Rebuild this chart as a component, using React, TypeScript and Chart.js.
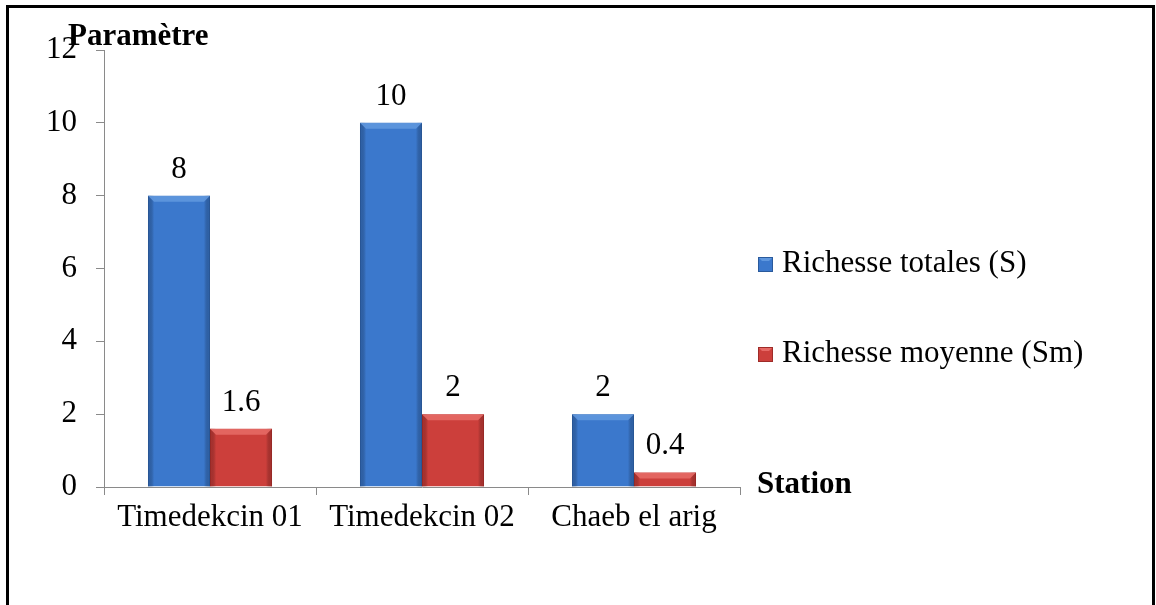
import React, { useEffect, useRef } from "react";
import { Chart, registerables } from "chart.js";

Chart.register(...registerables);

const categories = ["Timedekcin 01", "Timedekcin 02", "Chaeb el arig"];
const richesseTotale = [8, 10, 2];
const richesseMoyenne = [1.6, 2, 0.4];
const seriesLabels = ["Richesse totales (S)", "Richesse moyenne (Sm)"];
const yTitle = "Paramètre";
const xTitle = "Station";

const FONT = "'Liberation Serif', 'Times New Roman', serif";
const FS = 31;

const BLUE = "#3b78cc";
const BLUE_DARK = "#2a5a9c";
const BLUE_LIGHT = "#5f97de";
const RED = "#cc3f3b";
const RED_DARK = "#9e2b28";
const RED_LIGHT = "#e66965";

const bevelPlugin = {
  id: "bevel",
  afterDatasetsDraw(chart: any) {
    const ctx = chart.ctx;
    const shades = [
      { dark: BLUE_DARK, light: BLUE_LIGHT },
      { dark: RED_DARK, light: RED_LIGHT },
    ];
    chart.data.datasets.forEach((ds: any, di: number) => {
      const meta = chart.getDatasetMeta(di);
      meta.data.forEach((bar: any) => {
        const { x, y, base, width } = bar.getProps(["x", "y", "base", "width"], true);
        const l = x - width / 2;
        const r = x + width / 2;
        const h = base - y;
        const b = Math.min(6, h / 2);
        ctx.save();
        // left edge
        let g = ctx.createLinearGradient(l, 0, l + b, 0);
        g.addColorStop(0, shades[di].dark);
        g.addColorStop(1, "rgba(0,0,0,0)");
        ctx.fillStyle = g;
        ctx.globalAlpha = 0.6;
        ctx.fillRect(l, y, b, h);
        // right edge
        g = ctx.createLinearGradient(r - b, 0, r, 0);
        g.addColorStop(0, "rgba(0,0,0,0)");
        g.addColorStop(1, shades[di].dark);
        ctx.fillStyle = g;
        ctx.fillRect(r - b, y, b, h);
        // top bevel
        ctx.globalAlpha = 0.9;
        ctx.beginPath();
        ctx.moveTo(l, y);
        ctx.lineTo(r, y);
        ctx.lineTo(r - b, y + b);
        ctx.lineTo(l + b, y + b);
        ctx.closePath();
        ctx.fillStyle = shades[di].light;
        ctx.fill();
        ctx.restore();
      });
    });
  },
};

const labelsPlugin = {
  id: "valueLabels",
  afterDatasetsDraw(chart: any) {
    const ctx = chart.ctx;
    ctx.save();
    ctx.font = `${FS}px ${FONT}`;
    ctx.fillStyle = "#000";
    ctx.textAlign = "center";
    ctx.textBaseline = "alphabetic";
    chart.data.datasets.forEach((ds: any, di: number) => {
      const meta = chart.getDatasetMeta(di);
      meta.data.forEach((bar: any, i: number) => {
        ctx.fillText(String(ds.data[i]), bar.x, bar.y - 18);
      });
    });
    ctx.restore();
  },
};

const annotationsPlugin = {
  id: "annotations",
  afterDraw(chart: any) {
    const ctx = chart.ctx;
    ctx.save();
    ctx.fillStyle = "#000";
    ctx.textBaseline = "alphabetic";
    ctx.textAlign = "left";
    ctx.font = `bold ${FS}px ${FONT}`;
    ctx.fillText(yTitle, 68, 45);
    ctx.fillText(xTitle, 757, 493);
    // legend
    ctx.font = `${FS}px ${FONT}`;
    const baselines = [272, 362];
    chart.data.datasets.forEach((ds: any, di: number) => {
      const bl = baselines[di];
      const x0 = 758;
      const s = 15;
      const col = di === 0 ? [BLUE, BLUE_DARK, BLUE_LIGHT] : [RED, RED_DARK, RED_LIGHT];
      ctx.fillStyle = col[0];
      ctx.fillRect(x0, bl - s, s, s);
      ctx.fillStyle = col[2];
      ctx.beginPath();
      ctx.moveTo(x0, bl - s);
      ctx.lineTo(x0 + s, bl - s);
      ctx.lineTo(x0 + s - 4, bl - s + 4);
      ctx.lineTo(x0 + 4, bl - s + 4);
      ctx.closePath();
      ctx.fill();
      ctx.strokeStyle = col[1];
      ctx.lineWidth = 1;
      ctx.strokeRect(x0 + 0.5, bl - s + 0.5, s - 1, s - 1);
      ctx.fillStyle = "#000";
      ctx.fillText(ds.label, 782, bl);
    });
    ctx.restore();
  },
};

export default function App() {
  const canvasRef = useRef<HTMLCanvasElement | null>(null);

  useEffect(() => {
    document.body.style.margin = "0";
    const canvas = canvasRef.current;
    if (!canvas) return;
    const chart = new Chart(canvas, {
      type: "bar",
      data: {
        labels: categories,
        datasets: [
          {
            label: seriesLabels[0],
            data: richesseTotale,
            backgroundColor: BLUE,
            borderColor: BLUE_DARK,
            borderWidth: 1,
            categoryPercentage: 0.585,
            barPercentage: 1,
          },
          {
            label: seriesLabels[1],
            data: richesseMoyenne,
            backgroundColor: RED,
            borderColor: RED_DARK,
            borderWidth: 1,
            categoryPercentage: 0.585,
            barPercentage: 1,
          },
        ],
      },
      options: {
        animation: false,
        responsive: false,
        maintainAspectRatio: false,
        devicePixelRatio: 1,
        layout: { padding: { left: 0, top: 50, right: 416, bottom: 0 } },
        plugins: {
          legend: { display: false },
          tooltip: { enabled: false },
        },
        scales: {
          x: {
            grid: {
              offset: true,
              drawOnChartArea: false,
              drawTicks: true,
              tickLength: 8,
              color: "#8a8a8a",
            },
            border: { color: "#8a8a8a", width: 1 },
            ticks: {
              color: "#000",
              font: { family: FONT, size: FS },
              padding: 4,
              maxRotation: 0,
              autoSkip: false,
            },
            afterFit(scale: any) {
              scale.height = 118;
            },
          },
          y: {
            min: 0,
            max: 12,
            ticks: {
              stepSize: 2,
              color: "#000",
              font: { family: FONT, size: FS },
              padding: 19,
            },
            grid: {
              drawOnChartArea: false,
              drawTicks: true,
              tickLength: 8,
              color: "#8a8a8a",
            },
            border: { color: "#8a8a8a", width: 1 },
            afterFit(scale: any) {
              scale.width = 104;
            },
          },
        },
      },
      plugins: [bevelPlugin, labelsPlugin, annotationsPlugin],
    } as any);
    return () => chart.destroy();
  }, []);

  return (
    <div style={{ position: "relative", width: 1156, height: 605, overflow: "hidden", background: "#fff" }}>
      <canvas ref={canvasRef} width={1156} height={605} style={{ position: "absolute", left: 0, top: 0, width: 1156, height: 605 }} />
      <div
        style={{
          position: "absolute",
          left: 6,
          top: 5,
          width: 1155 - 6 - 6,
          height: 700,
          borderLeft: "3px solid #000",
          borderTop: "3px solid #000",
          borderRight: "3px solid #000",
          pointerEvents: "none",
        }}
      />
    </div>
  );
}
